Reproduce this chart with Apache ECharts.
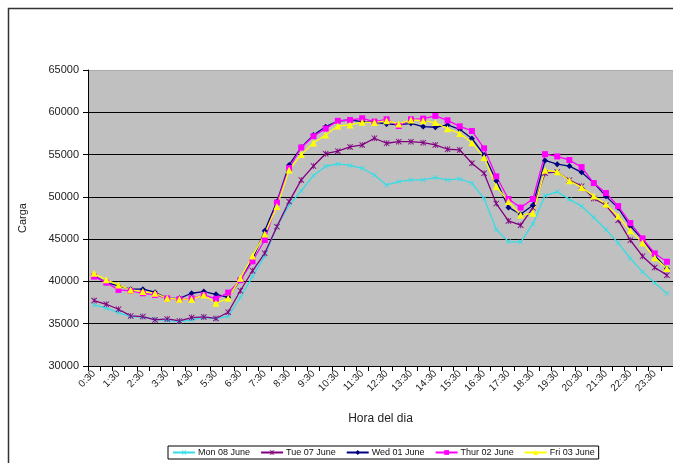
<!DOCTYPE html>
<html>
<head>
<meta charset="utf-8">
<script src="https://cdn.jsdelivr.net/npm/echarts@6/dist/echarts.min.js"></script>
<style>
html,body{margin:0;padding:0;background:#fff;}
#chart{width:673px;height:463px;}
</style>
</head>
<body>
<div id="chart"></div>
<script>
// Categories: half-hour slots 0:30 .. 24:00
var categories = ["0:30","1:00","1:30","2:00","2:30","3:00","3:30","4:00","4:30","5:00","5:30","6:00",
  "6:30","7:00","7:30","8:00","8:30","9:00","9:30","10:00","10:30","11:00","11:30","12:00",
  "12:30","13:00","13:30","14:00","14:30","15:00","15:30","16:00","16:30","17:00","17:30","18:00",
  "18:30","19:00","19:30","20:00","20:30","21:00","21:30","22:00","22:30","23:00","23:30","24:00"];

var seriesNames = ["Mon 08 June","Tue 07 June","Wed 01 June","Thur 02 June","Fri 03 June"];

var mon08 = [37220,36830,36320,35840,35770,35530,35370,35250,35450,35730,35600,35880,
  38100,40570,43000,46480,49030,50720,52530,53620,53890,53720,53380,52590,
  51410,51800,52000,52000,52280,52000,52120,51610,49800,46130,44710,44650,
  46800,50150,50600,49700,48900,47550,46130,44560,42710,41130,39830,38570];

var tue07 = [37740,37300,36710,35920,35840,35450,35570,35330,35730,35800,35620,36360,
  38900,41260,43330,46480,49440,52000,53650,55100,55400,55900,56140,56930,
  56340,56530,56530,56410,56140,55630,55550,53970,52790,49200,47150,46650,
  48700,52800,52950,51970,51260,49800,49010,47240,44870,42980,41640,40740];

var wed01 = [40650,39860,39470,39080,39080,38720,38000,38000,38600,38800,38480,38130,
  40180,42620,46000,49440,53770,55860,57300,58300,58970,59090,58900,58820,
  58620,58500,58700,58310,58230,58500,57990,56900,54960,51900,48750,47950,
  49010,54300,53870,53640,52900,51650,50060,48700,46550,44990,43060,41500];

var thu02 = [40570,39860,39000,38880,38600,38400,38000,37900,38000,38400,37950,38680,
  40140,42380,44900,49330,53400,55840,57170,58070,58990,59090,59290,58900,
  59170,58380,59170,59250,59570,59050,58340,57790,55740,52430,49740,48730,
  49750,55050,54780,54350,53520,51630,50450,48910,46900,45090,43310,42330];

var fri03 = [40970,40190,39590,39000,38800,38600,38000,37900,37900,38400,37420,38000,
  40370,43000,45620,48850,53180,55000,56380,57320,58380,58500,58830,58780,
  59010,58620,59090,59010,58780,58050,57500,56410,54660,51210,49440,47850,
  48050,53160,52970,51900,51120,50110,49130,47710,45980,44560,42790,41520];

var yTicks = [30000,35000,40000,45000,50000,55000,60000,65000];

var colors = ["#33DDE6","#800080","#000080","#FF00FF","#FFFF00"];
var xSym = 'path://M0,1L1,0L5,4L9,0L10,1L6,5L10,9L9,10L5,6L1,10L0,9L4,5Z';
var starSym = 'path://M0,1L1,0L4.4,3.4L4.4,0L5.6,0L5.6,3.4L9,0L10,1L6,5L10,9L9,10L5.6,6.6L5.6,10L4.4,10L4.4,6.6L1,10L0,9L4,5Z';
var symbols = [xSym, starSym, 'diamond', 'rect', 'triangle'];
var symSizes = [5, 6, 6, 6, 7];
var allData = [mon08, tue07, wed01, thu02, fri03];

var chart = echarts.init(document.getElementById('chart'), null, {renderer:'canvas'});
var series = allData.map(function(d, k){
  return {
    name: seriesNames[k],
    type: 'line',
    data: d,
    symbol: symbols[k],
    symbolSize: symSizes[k],
    showAllSymbol: true,
    lineStyle: {color: colors[k], width: 1.3},
    itemStyle: {color: colors[k]},
    emphasis: {disabled: true},
    animation: false
  };
});

chart.setOption({
  animation: false,
  textStyle: {fontFamily: 'Liberation Sans, Arial, sans-serif'},
  graphic: [
    {type:'rect', left:6, top:6, shape:{x:0,y:0,width:700,height:470},
     style:{fill:'none', stroke:'#333', lineWidth:1.5}, z:-1}
  ],
  grid: {left: 88, top: 70, width: 590, height: 296, show: true, backgroundColor: '#C0C0C0', borderWidth: 0},
  legend: {
    data: seriesNames,
    left: 168, top: 446,
    width: 450,
    itemWidth: 22, itemHeight: 6, itemGap: 10,
    padding: [2, 4, 2, 4],
    borderColor: '#000', borderWidth: 1,
    backgroundColor: '#fff',
    textStyle: {fontSize: 9, color: '#111', padding:[0,0,0,-2]}
  },
  xAxis: {
    type: 'category',
    data: categories,
    boundaryGap: true,
    name: 'Hora del dia',
    nameLocation: 'middle',
    nameGap: 47,
    nameTextStyle: {fontSize: 12, color: '#222'},
    axisLine: {lineStyle: {color: '#000', width: 1}},
    axisTick: {show: true, interval: 0, length: 5, lineStyle:{color:'#000'}},
    axisLabel: {interval: 1, rotate: 45, fontSize: 10, color: '#222', margin: 6},
    splitLine: {show: false}
  },
  yAxis: {
    type: 'value',
    min: 30000, max: 65000, interval: 5000,
    name: 'Carga',
    nameLocation: 'middle',
    nameGap: 60,
    nameRotate: 90,
    nameTextStyle: {fontSize: 11, color: '#222'},
    axisLine: {show: true, lineStyle: {color: '#000', width: 1}},
    axisTick: {show: true, length: 5, lineStyle:{color:'#000'}},
    axisLabel: {fontSize: 11, color: '#222', margin: 9,
      formatter: function(v){ return yTicks.indexOf(v) >= 0 ? String(v) : ''; }},
    splitLine: {show: true, lineStyle: {color: ['#000','#000','#000','#000','#000','#000','#000','#aaa'], width: 1.2}}
  },
  series: series
});
</script>
</body>
</html>
